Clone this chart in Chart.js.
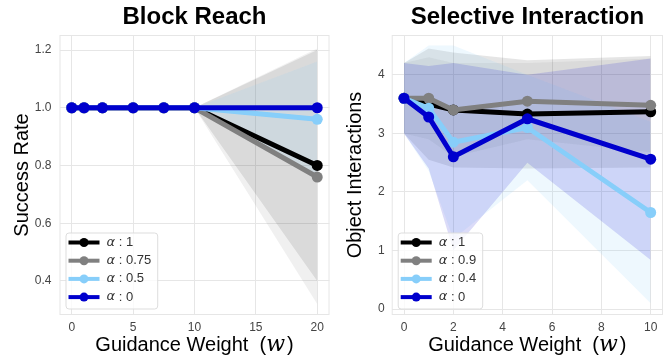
<!DOCTYPE html>
<html>
<head>
<meta charset="utf-8">
<script src="https://cdn.jsdelivr.net/npm/chart.js@4.4.0/dist/chart.umd.min.js"></script>
<style>
  html, body { margin: 0; padding: 0; background: #fff; }
  #wrap { width: 670px; height: 358px; display: flex; }
  .cell { width: 335px; height: 358px; }
</style>
</head>
<body>
<div id="wrap">
  <div class="cell"><canvas id="reach" width="335" height="358"></canvas></div>
  <div class="cell"><canvas id="select" width="335" height="358"></canvas></div>
</div>
<script>
// Block Reach
const reachWeights = [0, 1, 2.5, 5, 7.5, 10, 20];
const reachTicksX = [0, 5, 10, 15, 20];
const reachTicksY = [0.4, 0.6, 0.8, 1.0, 1.2];
const reachAlphas = ["1", "0.75", "0.5", "0"];
const reachMean = [
	[1, 1, 1, 1, 1, 1, 0.8],
	[1, 1, 1, 1, 1, 1, 0.76],
	[1, 1, 1, 1, 1, 1, 0.96],
	[1, 1, 1, 1, 1, 1, 1.0],
];
const reachUpper = [
	[1, 1, 1, 1, 1, 1, 1.2],
	[1, 1, 1, 1, 1, 1, 1.205],
	[1, 1, 1, 1, 1, 1, 1.16],
	null,
];
const reachLower = [
	[1, 1, 1, 1, 1, 1, 0.4],
	[1, 1, 1, 1, 1, 1, 0.32],
	[1, 1, 1, 1, 1, 1, 0.76],
	null,
];

// Selective Interaction
const selectWeights = [0, 1, 2, 5, 10];
const selectTicksX = [0, 2, 4, 6, 8, 10];
const selectTicksY = [0, 1, 2, 3, 4];
const selectAlphas = ["1", "0.9", "0.4", "0"];
const selectMean = [
	[3.6, 3.5, 3.4, 3.33, 3.37],
	[3.6, 3.6, 3.4, 3.55, 3.48],
	[3.6, 3.43, 2.85, 3.1, 1.65],
	[3.6, 3.28, 2.6, 3.25, 2.56],
];
const selectUpper = [
	[4.2, 4.45, 4.38, 4.25, 4.32],
	[4.2, 4.3, 4.2, 4.2, 4.28],
	[4.2, 4.5, 4.5, 4.0, 3.2],
	[4.2, 4.15, 4.2, 4.0, 4.28],
];
const selectLower = [
	[3.0, 2.55, 2.42, 2.4, 2.42],
	[3.0, 2.9, 2.6, 2.9, 2.68],
	[3.0, 2.36, 1.2, 2.2, 0.1],
	[3.0, 2.4, 1.0, 2.5, 0.84],
];

const colors = ["#000000", "#808080", "#87cefa", "#0000cd"];
const bandRgb = ["0,0,0", "128,128,128", "135,206,250", "0,0,205"];
const bandAlpha = [0.1, 0.12, 0.14, 0.14];
const gridColor = "#e6e6e6";

function points(xs, ys) {
	return xs.map((x, i) => ({ x: x, y: ys[i] }));
}

function buildDatasets(xs, means, uppers, lowers, alphas) {
	const sets = [];
	means.forEach((m, i) => {
		sets.push({
			label: alphas[i],
			isMean: true,
			data: points(xs, m),
			borderColor: colors[i],
			backgroundColor: colors[i],
			borderWidth: 5,
			pointRadius: 5.5,
			pointHoverRadius: 5.5,
			pointBorderWidth: 0,
			fill: false,
			order: 3 - i,
		});
	});
	means.forEach((m, i) => {
		if (!uppers[i]) return;
		sets.push({
			label: "",
			data: points(xs, uppers[i]),
			borderWidth: 0,
			pointRadius: 0,
			fill: "+1",
			backgroundColor: "rgba(" + bandRgb[i] + "," + bandAlpha[i] + ")",
			order: 20 - i,
		});
		sets.push({
			label: "",
			data: points(xs, lowers[i]),
			borderWidth: 0,
			pointRadius: 0,
			fill: false,
			order: 20 - i,
		});
	});
	return sets;
}

const framePlugin = {
	id: "frame",
	beforeDatasetsDraw(chart) {
		const a = chart.chartArea;
		const ctx = chart.ctx;
		ctx.save();
		ctx.strokeStyle = gridColor;
		ctx.lineWidth = 1;
		ctx.strokeRect(a.left + 0.5, a.top + 0.5, a.right - a.left - 1, a.bottom - a.top - 1);
		ctx.restore();
	},
};

const xTitlePlugin = {
	id: "xTitle",
	afterDraw(chart) {
		const a = chart.chartArea;
		const ctx = chart.ctx;
		const plain = '20px "Liberation Sans"';
		const ital = 'italic 22px "DejaVu Serif"';
		const p1 = "Guidance Weight  (";
		const p2 = "w";
		const p3 = ")";
		ctx.save();
		ctx.fillStyle = "#000";
		ctx.textBaseline = "alphabetic";
		ctx.font = plain;
		const w1 = ctx.measureText(p1).width;
		const w3 = ctx.measureText(p3).width;
		ctx.font = ital;
		const w2 = ctx.measureText(p2).width + 2;
		let x = (a.left + a.right) / 2 - (w1 + w2 + w3) / 2;
		const y = 351;
		ctx.font = plain;
		ctx.fillText(p1, x, y);
		ctx.font = ital;
		ctx.fillText(p2, x + w1, y);
		ctx.font = plain;
		ctx.fillText(p3, x + w1 + w2, y);
		ctx.restore();
	},
};

const legendPlugin = {
	id: "insideLegend",
	afterDraw(chart) {
		const a = chart.chartArea;
		const ctx = chart.ctx;
		const items = chart.data.datasets.filter((d) => d.isMean);
		const alphaFont = 'italic 13px "DejaVu Sans"';
		const textFont = '13px "Liberation Sans"';
		ctx.save();
		ctx.font = alphaFont;
		const aw = ctx.measureText("α").width;
		ctx.font = textFont;
		let maxW = 0;
		items.forEach((d) => {
			maxW = Math.max(maxW, aw + ctx.measureText(" : " + d.label).width);
		});
		const left = a.left + 6;
		const bottom = a.bottom - 6.5;
		const height = 76;
		const top = bottom - height;
		const width = 41 + maxW + 6;
		ctx.fillStyle = "rgba(255,255,255,0.8)";
		ctx.strokeStyle = "#dddddd";
		ctx.lineWidth = 1;
		ctx.beginPath();
		ctx.roundRect(left + 0.5, top + 0.5, width, height, 3);
		ctx.fill();
		ctx.stroke();
		items.forEach((d, i) => {
			const cy = top + 10 + i * 18.2;
			ctx.strokeStyle = d.borderColor;
			ctx.lineWidth = 4;
			ctx.beginPath();
			ctx.moveTo(left + 3, cy);
			ctx.lineTo(left + 34, cy);
			ctx.stroke();
			ctx.fillStyle = d.borderColor;
			ctx.beginPath();
			ctx.arc(left + 18.5, cy, 4.5, 0, Math.PI * 2);
			ctx.fill();
			ctx.fillStyle = "#333";
			ctx.textBaseline = "middle";
			ctx.font = alphaFont;
			ctx.fillText("α", left + 41, cy);
			ctx.font = textFont;
			ctx.fillText(" : " + d.label, left + 41 + aw, cy);
		});
		ctx.restore();
	},
};

function makeChart(id, cfg) {
	return new Chart(document.getElementById(id), {
		type: "line",
		data: {
			datasets: buildDatasets(cfg.xs, cfg.means, cfg.uppers, cfg.lowers, cfg.alphas),
		},
		plugins: [framePlugin, xTitlePlugin, legendPlugin],
		options: {
			responsive: false,
			animation: false,
			events: [],
			layout: { padding: { left: 0, right: cfg.padRight, top: 0, bottom: 0 } },
			plugins: {
				legend: { display: false },
				tooltip: { enabled: false },
				title: {
					display: true,
					text: cfg.title,
					fullSize: false,
					color: "#000",
					font: { family: "Liberation Sans", size: 24, weight: "bold" },
					padding: { top: 3, bottom: 3.2 },
				},
			},
			scales: {
				x: {
					type: "linear",
					min: cfg.xMin,
					max: cfg.xMax,
					afterBuildTicks: (s) => { s.ticks = cfg.ticksX.map((v) => ({ value: v })); },
					afterFit: (s) => { s.height = 43; },
					grid: { color: gridColor, drawTicks: false },
					border: { display: false },
					ticks: {
						padding: 5,
						color: "#444",
						font: { family: "Liberation Sans", size: 12 },
						callback: (v) => String(v),
					},
				},
				y: {
					type: "linear",
					min: cfg.yMin,
					max: cfg.yMax,
					afterBuildTicks: (s) => { s.ticks = cfg.ticksY.map((v) => ({ value: v })); },
					afterFit: (s) => { s.width = cfg.yWidth; },
					grid: { color: gridColor, drawTicks: false },
					border: { display: false },
					title: {
						display: true,
						text: cfg.yTitle,
						color: "#000",
						font: { family: "Liberation Sans", size: 20 },
						padding: { top: cfg.yTitlePad, bottom: 0 },
					},
					ticks: {
						padding: cfg.yTickPad,
						color: "#444",
						font: { family: "Liberation Sans", size: 12 },
						callback: cfg.yFormat,
					},
				},
			},
		},
	});
}

makeChart("reach", {
	title: "Block Reach",
	yTitle: "Success Rate",
	xs: reachWeights,
	means: reachMean,
	uppers: reachUpper,
	lowers: reachLower,
	alphas: reachAlphas,
	ticksX: reachTicksX,
	ticksY: reachTicksY,
	xMin: -1,
	xMax: 21,
	yMin: 0.282,
	yMax: 1.252,
	yWidth: 59.5,
	padRight: 1,
	yTitlePad: 10,
	yTickPad: 8,
	yFormat: (v) => v.toFixed(1),
});

makeChart("select", {
	title: "Selective Interaction",
	yTitle: "Object Interactions",
	xs: selectWeights,
	means: selectMean,
	uppers: selectUpper,
	lowers: selectLower,
	alphas: selectAlphas,
	ticksX: selectTicksX,
	ticksY: selectTicksY,
	xMin: -0.5,
	xMax: 10.5,
	yMin: -0.1,
	yMax: 4.68,
	yWidth: 56.7,
	padRight: 7,
	yTitlePad: 8,
	yTickPad: 7,
	yFormat: (v) => String(v),
});
</script>
</body>
</html>
